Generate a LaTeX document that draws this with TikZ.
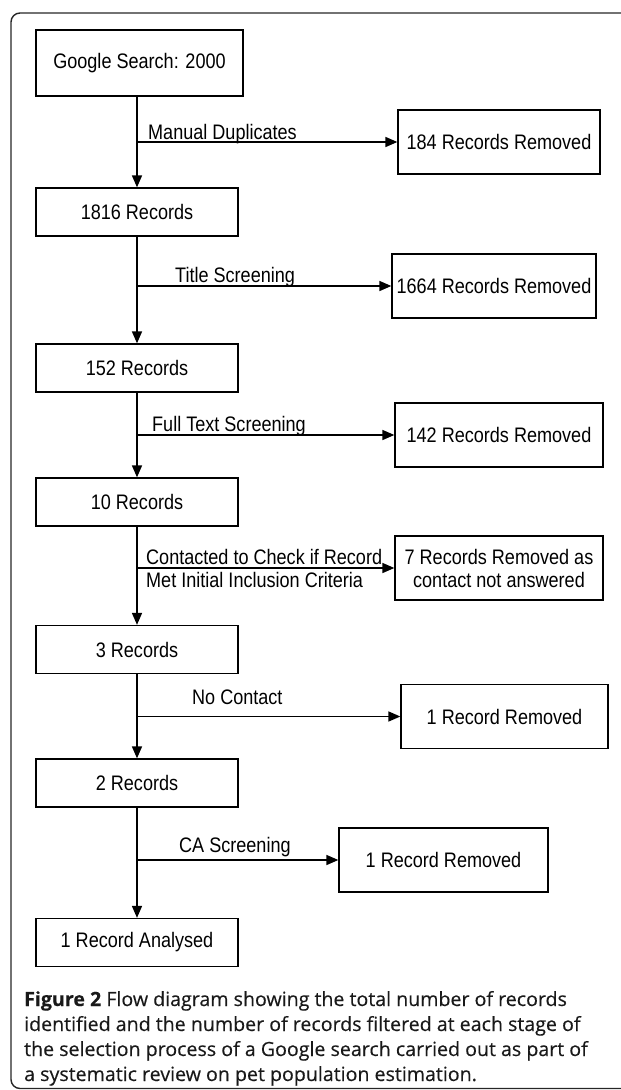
\documentclass[tikz,border=0pt]{standalone}
\usepackage{fontspec}
\setmainfont[FakeStretch=0.86]{Liberation Sans}
\newfontfamily\capfont[FakeBold=0.3]{Open Sans}
\usetikzlibrary{arrows.meta}

\begin{document}
\begin{tikzpicture}[x=1pt, y=-1pt,
stage/.style={draw, line width=1.3pt, inner sep=0pt, minimum width=202pt,
  minimum height=48pt, font=\fontsize{21}{23}\selectfont},
removed/.style={stage, minimum height=64pt, align=center},
lbl/.style={inner sep=0pt, anchor=base west, font=\fontsize{21}{23}\selectfont},
flow/.style={line width=1.6pt, -{Triangle[length=12pt,width=10pt]}},
capline/.style={inner sep=0pt, anchor=base west, text=black!90,
  font=\capfont\fontsize{19.6}{25}\selectfont}]
\clip (0,0) rectangle (621,1090);
% outer frame
\draw [black!85, line width=1.4pt, rounded corners=9pt] (11,13) rectangle (660,1088.5);
% main column
\node [stage, minimum width=207pt, minimum height=66pt] (g) at (139.5,63) {Google Search: 2000};
\node [stage] (n1816) at (137,212) {1816 Records};
\node [stage] (n152) at (137,368) {152 Records};
\node [stage] (n10) at (137,502) {10 Records};
\node [stage] (n3) at (137,649.5) {3 Records};
\node [stage] (n2) at (137,783) {2 Records};
\node [stage] (n1) at (137,942.5) {1 Record Analysed};
% removed records
\node [removed, minimum width=202pt] (r184) at (499,142) {184 Records Removed};
\node [removed, minimum width=204pt] (r1664) at (494,286) {1664 Records Removed};
\node [removed, minimum width=208pt] (r142) at (499,435) {142 Records Removed};
\node [removed, minimum width=208pt] (r7) at (499,568) {7 Records Removed as\\contact not answered};
\node [removed, minimum width=207pt] (r1a) at (504.5,716.5) {1 Record Removed};
\node [removed, minimum width=209pt] (r1b) at (443.5,860) {1 Record Removed};
% downward arrows
\draw [flow] (g.south -| n1816.north) -- (n1816.north);
\draw [flow] (n1816) -- (n152);
\draw [flow] (n152) -- (n10);
\draw [flow] (n10) -- (n3);
\draw [flow] (n3) -- (n2);
\draw [flow] (n2) -- (n1);
% side arrows
\draw [flow] (r184.west -| n1816.north) -- (r184.west);
\draw [flow] (r1664.west -| n1816.north) -- (r1664.west);
\draw [flow] (r142.west -| n1816.north) -- (r142.west);
\draw [flow] (r7.west -| n1816.north) -- (r7.west);
\draw [flow] (r1a.west -| n1816.north) -- (r1a.west);
\draw [flow] (r1b.west -| n1816.north) -- (r1b.west);
% filter labels
\node [lbl] (l184) at (148,139.5) {Manual Duplicates};
\node [lbl] (l1664) at (175,282.5) {Title Screening};
\node [lbl] (l142) at (152,431.5) {Full Text Screening};
\node [lbl] (l7a) at (146,564.5) {Contacted to Check if Record};
\node [lbl] (l7b) at (146,587.5) {Met Initial Inclusion Criteria};
\node [lbl] (l1a) at (192,704.5) {No Contact};
\node [lbl] (l1b) at (179,852.5) {CA Screening};
% caption
\node [capline] (c1) at (24,1006) {\textbf{Figure 2} Flow diagram showing the total number of records};
\node [capline] (c2) at (24,1031) {identified and the number of records filtered at each stage of};
\node [capline] (c3) at (24,1056) {the selection process of a Google search carried out as part of};
\node [capline] (c4) at (24,1081) {a systematic review on pet population estimation.};
\end{tikzpicture}
\end{document}
